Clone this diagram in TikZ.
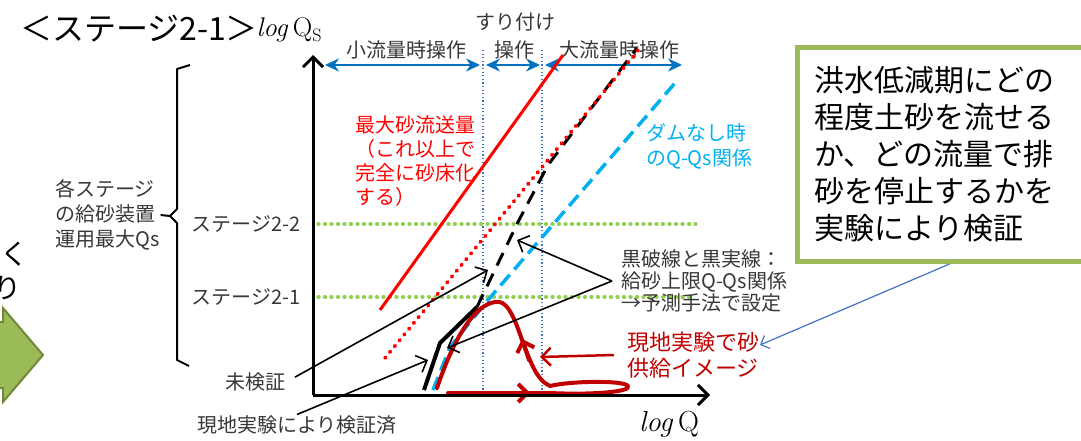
\documentclass[tikz,border=0pt]{standalone}
\usepackage{fontspec}
\usepackage{tikz}
\usetikzlibrary{arrows.meta}
\newfontfamily\jpfont{Noto Sans CJK JP}
\definecolor{opblue}{RGB}{0,112,192}
\definecolor{guideblue}{RGB}{68,114,196}
\definecolor{damblue}{RGB}{0,176,240}
\definecolor{supred}{RGB}{192,0,0}
\definecolor{stagegreen}{RGB}{146,208,80}
\definecolor{boxgreen}{RGB}{155,187,89}
\definecolor{arrowedge}{RGB}{113,137,57}
\definecolor{txtgray}{RGB}{55,55,55}

\begin{document}
\begin{tikzpicture}[x=1pt,y=-1pt,
    jp/.style={font=\jpfont\fontsize{20}{25}\selectfont,inner sep=1pt,text=txtgray},
    big/.style={font=\jpfont\fontsize{30}{37}\selectfont,text=black},
    qaxis/.style={line width=3pt,-{Straight Barb[length=10pt,width=20pt]}},
    oprange/.style={opblue,line width=2.5pt,{Stealth[length=14pt,width=13pt]}-{Stealth[length=14pt,width=13pt]}},
    guide/.style={guideblue,line width=1.2pt,dash pattern=on 1.2pt off 2.4pt},
    stageline/.style={stagegreen,line width=3.2pt,line cap=round,dash pattern=on 1pt off 5.5pt},
    pointer/.style={line width=1.6pt,-{Straight Barb[length=9pt,width=18pt]}},
    supply/.style={supred,line width=4pt,line cap=round,line join=round}]
  \useasboundingbox (0,0) rectangle (1081,441);
  \clip (0,0) rectangle (1081,441);

  \node[big,anchor=east,inner sep=0pt,font=\jpfont\fontsize{28}{34}\selectfont] (cut1) at (29,254) {らく};
  \node[big,anchor=east,inner sep=0pt,font=\jpfont\fontsize{28}{34}\selectfont] (cut2) at (22,288) {り};
  \filldraw[fill=boxgreen,draw=arrowedge,line width=2pt] (-10,322) -- (3,322) -- (3,308) -- (43,355) -- (3,402) -- (3,388) -- (-10,388) -- cycle;

  \node[big,font=\jpfont\fontsize{32}{36}\selectfont] (title) at (139,29) {＜ステージ2-1＞};
  \node[font=\fontsize{27}{30}\selectfont] (ylbl) at (289,30) {\textit{log}\,Q\raisebox{-5pt}{\fontsize{18}{20}\selectfont S}};
  \node[font=\fontsize{29}{32}\selectfont] (xlbl) at (669,424) {\textit{log}\,Q};

  \coordinate (origin) at (313,395);
  \coordinate (ytop) at (313,55);
  \coordinate (xend) at (710,395);
  \coordinate (g1) at (483,50);
  \coordinate (g2) at (542,50);
  \draw[guide] (g1) -- (g1 |- origin);
  \draw[guide] (g2) -- (g2 |- origin);

  \draw[oprange] (325,65) -- (480,65);
  \draw[oprange] (486,65) -- (540,65);
  \draw[oprange] (545,65) -- (682,65);
  \node[jp] (low) at (406,50) {小流量時操作};
  \node[jp] (mid1) at (515,22) {すり付け};
  \node[jp] (mid2) at (514,50) {操作};
  \node[jp] (high) at (619,50) {大流量時操作};

  \node[jp] (st2) at (246,224) {ステージ2-2};
  \node[jp] (st1) at (246,297) {ステージ2-1};
  \draw[stageline] (318,224) -- (698,224);
  \draw[stageline] (318,297) -- (693,297);

  \node[jp,align=left,anchor=west] (stagelbl) at (54,215) {各ステージ\\の給砂装置\\運用最大Qs};
  \draw[line width=2pt,line join=round] (190,65) -- (177,69) -- (177,209) -- (170,216) -- (177,223) -- (177,360) -- (189,366);
  \draw[line width=2pt] (stagelbl.east) -- (170,216);

  \draw[red,line width=3pt] (380,310) -- (563,55);
  \draw[line width=3pt,dash pattern=on 14pt off 9pt] (477,307) -- (518,222) -- (548,165) -- (637,48);
  \draw[red,line width=3.8pt,line cap=round,dash pattern=on 1pt off 6.5pt] (385,358) -- (640,48);
  \draw[damblue,line width=3.5pt,dash pattern=on 14pt off 7pt] (433,390) -- (450,347) -- (488,300) -- (675,83);
  \draw[line width=4pt,line join=round] (424,390) -- (440,343) -- (477,307);

  \draw[supply] (448,393) -- (550,393) .. controls (590,395) and (632,392) .. (628,386)
    .. controls (624,380) and (570,381) .. (550,386) .. controls (536,380) and (530,360) .. (522,340)
    .. controls (512,310) and (505,300) .. (495,302) .. controls (475,305) and (455,335) .. (437,388);
  \draw[supply,-{Straight Barb[length=9pt,width=18pt]}] (505,393) -- (530,393);
  \draw[supply,-{Straight Barb[length=9pt,width=18pt]}] (529,360) -- (522,339);

  \draw[qaxis] (origin) -- (ytop);
  \draw[qaxis] (origin) -- (xend);

  \node[jp,text=red,align=left,anchor=west,font=\jpfont\fontsize{20}{24}\selectfont] (maxlbl) at (354,161) {最大砂流送量\\（これ以上で\\完全に砂床化\\する）};
  \node[jp,text=damblue,align=left,anchor=west] (damlbl) at (645,146) {ダムなし時\\のQ-Qs関係};
  \node[jp,align=left,anchor=west,font=\jpfont\fontsize{20}{22}\selectfont] (blknote) at (620,281) {黒破線と黒実線：\\給砂上限Q-Qs関係\\→予測手法で設定};
  \node[jp,text=supred,align=left,anchor=west,font=\jpfont\fontsize{22}{26}\selectfont] (supnote) at (626,355) {現地実験で砂\\供給イメージ};
  \node[jp] (unver) at (255,382) {未検証};
  \node[jp] (verif) at (297,425) {現地実験により検証済};

  \coordinate (unvtip) at (488,270);
  \coordinate (vertip) at (428,360);
  \coordinate (dashtip) at (517,240);
  \coordinate (soltip) at (447,348);
  \coordinate (supplytip) at (540,357);
  \coordinate (notetip) at (760,345);

  \draw[pointer,shorten <=10pt] (unver.east) -- (unvtip);
  \draw[pointer] (verif.north) -- (vertip);
  \draw[pointer] ([xshift=-8pt]blknote.west) -- (dashtip);
  \draw[pointer] ([xshift=-8pt]blknote.west) -- (soltip);
  \draw[supred,line width=2.5pt,-{Straight Barb[length=9pt,width=18pt]}] ([xshift=-12pt]supnote.west) -- (supplytip);

  \node[big,draw=boxgreen,line width=5pt,anchor=north west,text width=270pt,inner xsep=17pt,minimum height=214pt,align=left] (checkbox) at (795,45) {洪水低減期にどの\\程度土砂を流せる\\か、どの流量で排\\砂を停止するかを\\実験により検証};
  \draw[guideblue,line width=1.2pt,-{Straight Barb[length=7pt,width=14pt]}] (checkbox.south) -- (notetip);
\end{tikzpicture}
\end{document}
